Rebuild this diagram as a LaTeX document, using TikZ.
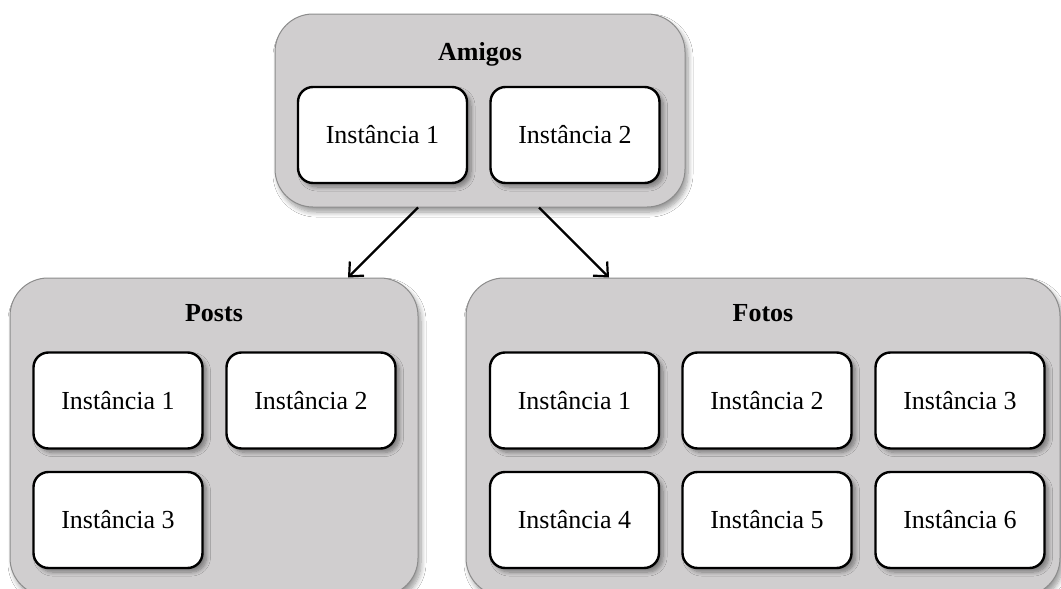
\documentclass[tikz,border=0pt]{standalone}
\usepackage{fontspec}
\setmainfont{Liberation Serif}
\usetikzlibrary{shadows.blur,calc,arrows.meta}
\definecolor{groupfill}{RGB}{208,206,207}
\definecolor{groupline}{RGB}{140,140,140}
\begin{document}
\begin{tikzpicture}[x=1pt,y=-1pt,
  every node/.style={font=\fontsize{26}{30}\selectfont},
  group/.style={draw=groupline, line width=1pt, fill=groupfill,
    rounded corners=38pt, inner sep=0pt,
    blur shadow={shadow xshift=3pt, shadow yshift=-5pt, shadow blur radius=5pt, shadow blur steps=8}},
  grouptitle/.style={font=\fontsize{26}{30}\selectfont\bfseries, inner sep=0pt},
  inst/.style={draw=black, line width=2.4pt, fill=white,
    rounded corners=15pt, minimum width=169pt, minimum height=96pt, inner sep=0pt,
    blur shadow={shadow xshift=4pt, shadow yshift=-4pt, shadow blur radius=4pt, shadow blur steps=8}},
  link/.style={line width=2.2pt, -{Straight Barb[length=11pt,width=20pt,line width=2.2pt]}}]
  \useasboundingbox (0,0) rectangle (1061,589);
  \clip (0,0) rectangle (1061,589);
  \fill[white] (0,0) rectangle (1061,589);

  % Amigos
  \node[group, minimum width=410pt, minimum height=193pt] (amigos) at (480,110.5) {};
  \node[grouptitle] (tamigos) at (480,54) {Amigos};
  \node[inst] (a1) at (382.5,135) {Instância 1};
  \node[inst] (a2) at (575,135) {Instância 2};

  % Posts
  \node[group, minimum width=408pt, minimum height=318pt] (posts) at (214,437) {};
  \node[grouptitle] (tposts) at (214,313) {Posts};
  \node[inst] (p1) at (118,400.5) {Instância 1};
  \node[inst] (p2) at (311,400.5) {Instância 2};
  \node[inst] (p3) at (118,520) {Instância 3};

  % Fotos
  \node[group, minimum width=594pt, minimum height=318pt] (fotos) at (763,437) {};
  \node[grouptitle] (tfotos) at (763,313) {Fotos};
  \node[inst] (f1) at (574.5,400.5) {Instância 1};
  \node[inst] (f2) at (767,400.5) {Instância 2};
  \node[inst] (f3) at (960,400.5) {Instância 3};
  \node[inst] (f4) at (574.5,520) {Instância 4};
  \node[inst] (f5) at (767,520) {Instância 5};
  \node[inst] (f6) at (960,520) {Instância 6};

  % links between the groups
  \draw[link] ($(amigos.south)+(-62,0)$) -- ($(posts.north)+(134,0)$);
  \draw[link] ($(amigos.south)+(59,0)$) -- ($(fotos.north)+(-154,0)$);
\end{tikzpicture}
\end{document}
